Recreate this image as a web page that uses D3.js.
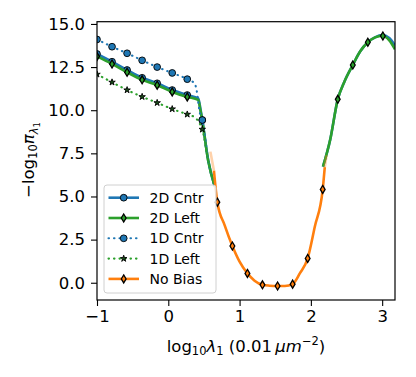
<!DOCTYPE html>
<html><head><meta charset="utf-8">
<script src="https://cdn.jsdelivr.net/npm/d3@7"></script>
<style>
html,body{margin:0;padding:0;background:#fff;}
text{font-family:"DejaVu Sans",sans-serif;}
</style></head>
<body>
<svg id="chart" width="416" height="377"></svg>
<script>
// ---------- data ----------
const xTicks = [-1, 0, 1, 2, 3];
const xTickLabels = ["\u22121", "0", "1", "2", "3"];
const yTicks = [0, 2.5, 5, 7.5, 10, 12.5, 15];
const yTickLabels = ["0.0", "2.5", "5.0", "7.5", "10.0", "12.5", "15.0"];
const legendLabels = ["2D Cntr", "2D Left", "1D Cntr", "1D Left", "No Bias"];

// 2D Cntr (solid blue)
const cntr2dX = [-1, -0.789, -0.578, -0.367, -0.156, 0.055, 0.266, 0.42, 0.45, 0.477, 0.56, 0.65];
const cntr2dY = [13.26, 12.81, 12.33, 11.88, 11.56, 11.17, 10.88, 10.69, 10.1, 9.43, 7.1, 5.6];
const cntr2dRightX = [2.17, 2.27, 2.377, 2.47, 2.588, 2.69, 2.799, 2.9, 3.0, 3.1, 3.18];
const cntr2dRightY = [6.73, 8.27, 10.63, 11.65, 12.62, 13.4, 13.94, 14.22, 14.35, 14.18, 13.75];
const cntr2dMarkX = [-1, -0.789, -0.578, -0.367, -0.156, 0.055, 0.266, 0.477];
const cntr2dMarkY = [13.26, 12.81, 12.33, 11.88, 11.56, 11.17, 10.88, 9.43];

// 2D Left (solid green)
const left2dX = [-1, -0.789, -0.578, -0.367, -0.156, 0.055, 0.266, 0.42, 0.45, 0.477, 0.56, 0.65];
const left2dY = [13.12, 12.68, 12.2, 11.76, 11.45, 11.06, 10.77, 10.6, 10.0, 9.38, 7.05, 5.6];
const left2dRightX = [2.17, 2.27, 2.377, 2.47, 2.588, 2.69, 2.799, 2.9, 3.0, 3.1, 3.18];
const left2dRightY = [6.73, 8.27, 10.63, 11.65, 12.62, 13.4, 13.94, 14.22, 14.32, 14.05, 13.53];
const left2dMarkX = [-1, -0.789, -0.578, -0.367, -0.156, 0.055, 0.266, 0.477, 2.377, 2.588, 2.799, 3.01];
const left2dMarkY = [13.12, 12.68, 12.2, 11.76, 11.45, 11.06, 10.77, 9.38, 10.63, 12.62, 13.94, 14.3];

// 1D Cntr (dotted blue)
const cntr1dX = [-1, -0.789, -0.578, -0.367, -0.156, 0.055, 0.266, 0.37, 0.40, 0.44, 0.477, 0.56, 0.65];
const cntr1dY = [14.1, 13.68, 13.3, 12.89, 12.5, 12.16, 11.8, 11.55, 11.1, 9.9, 9.43, 7.1, 5.6];
const cntr1dMarkX = [-1, -0.789, -0.578, -0.367, -0.156, 0.055, 0.266, 0.477];
const cntr1dMarkY = [14.1, 13.68, 13.3, 12.89, 12.5, 12.16, 11.8, 9.43];

// 1D Left (dotted green)
const left1dX = [-1, -0.789, -0.578, -0.367, -0.156, 0.055, 0.266, 0.37, 0.43, 0.477, 0.56, 0.65];
const left1dY = [12.08, 11.62, 11.17, 10.78, 10.43, 10.07, 9.76, 9.59, 9.3, 8.89, 7.1, 5.6];
const left1dMarkX = [-1, -0.789, -0.578, -0.367, -0.156, 0.055, 0.266, 0.477];
const left1dMarkY = [12.08, 11.62, 11.17, 10.78, 10.43, 10.07, 9.76, 8.89];

// No Bias (solid orange)
const noBiasX = [0.64, 0.688, 0.79, 0.899, 1.0, 1.11, 1.21, 1.321, 1.42, 1.533, 1.635, 1.744, 1.845, 1.955, 2.055, 2.166, 2.195];
const noBiasY = [6.5, 4.67, 3.34, 2.13, 1.22, 0.54, 0.12, -0.12, -0.17, -0.19, -0.19, -0.08, 0.54, 1.41, 3.25, 5.41, 6.7];
const noBiasFaintLeftX = [0.59, 0.64];
const noBiasFaintLeftY = [7.6, 6.5];
const noBiasFaintRightX = [2.195, 2.22];
const noBiasFaintRightY = [6.7, 7.4];
const noBiasMarkX = [0.688, 0.899, 1.11, 1.321, 1.533, 1.744, 1.955, 2.166];
const noBiasMarkY = [4.67, 2.13, 0.54, -0.12, -0.19, -0.08, 1.41, 5.41];

// ---------- drawing ----------
const BLUE = "#1f77b4", GREEN = "#2ca02c", ORANGE = "#ff7f0e";
const svg = d3.select("#chart");
const L = 97, R = 395, T = 21.7, B = 300;
const x = d3.scaleLinear().domain([-1, 3.18]).range([L, R]);
const y = d3.scaleLinear().domain([-1.0, 15.13]).range([B, T]);

svg.append("defs").append("clipPath").attr("id", "clip")
  .append("rect").attr("x", L).attr("y", T).attr("width", R - L).attr("height", B - T);

const plot = svg.append("g").attr("clip-path", "url(#clip)");
const zip = (xs, ys) => xs.map((v, i) => [v, ys[i]]);
const line = d3.line().x(d => x(d[0])).y(d => y(d[1])).curve(d3.curveMonotoneX);

const diamond = "M0,-4L2.4,0L0,4L-2.4,0Z";
const circle = d3.symbol().type(d3.symbolCircle).size(36)();
const star = d3.symbol().type(d3.symbolStar).size(13)();

function drawLine(g, xs, ys, color, dashed, opacity) {
  g.append("path").datum(zip(xs, ys)).attr("d", line)
    .attr("fill", "none").attr("stroke", color)
    .attr("stroke-width", dashed ? 2.1 : 2.6)
    .attr("stroke-opacity", opacity == null ? 1 : opacity)
    .attr("stroke-linecap", dashed ? "round" : "butt")
    .attr("stroke-linejoin", "round")
    .attr("stroke-dasharray", dashed ? "0.5,5" : null);
}
function drawMarks(g, xs, ys, path, fill, sw) {
  g.selectAll(null).data(zip(xs, ys)).enter().append("path")
    .attr("d", path).attr("transform", d => `translate(${x(d[0])},${y(d[1])})`)
    .attr("fill", fill).attr("stroke", "#000").attr("stroke-width", sw || 1.1);
}

// 2D Cntr
drawLine(plot, cntr2dX, cntr2dY, BLUE, false);
drawLine(plot, cntr2dRightX, cntr2dRightY, BLUE, false);
drawMarks(plot, cntr2dMarkX, cntr2dMarkY, circle, BLUE, 0.9);
// 2D Left
drawLine(plot, left2dX, left2dY, GREEN, false);
drawLine(plot, left2dRightX, left2dRightY, GREEN, false);
drawMarks(plot, left2dMarkX, left2dMarkY, diamond, GREEN, 1.3);
// 1D Cntr
drawLine(plot, cntr1dX, cntr1dY, BLUE, true);
drawMarks(plot, cntr1dMarkX, cntr1dMarkY, circle, BLUE, 0.9);
// 1D Left
drawLine(plot, left1dX, left1dY, GREEN, true);
drawMarks(plot, left1dMarkX, left1dMarkY, star, "#1a4d1a", 0.9);
// No Bias
drawLine(plot, noBiasFaintLeftX, noBiasFaintLeftY, ORANGE, false, 0.35);
drawLine(plot, noBiasFaintRightX, noBiasFaintRightY, ORANGE, false, 0.35);
drawLine(plot, noBiasX, noBiasY, ORANGE, false);
drawMarks(plot, noBiasMarkX, noBiasMarkY, diamond, ORANGE, 1.3);

// axes
const xAxis = svg.append("g").attr("transform", `translate(0,${B})`)
  .call(d3.axisBottom(x).tickValues(xTicks).tickFormat((d, i) => xTickLabels[i]).tickSize(6).tickPadding(4));
const yAxis = svg.append("g").attr("transform", `translate(${L},0)`)
  .call(d3.axisLeft(y).tickValues(yTicks).tickFormat((d, i) => yTickLabels[i]).tickSize(6).tickPadding(6));
[xAxis, yAxis].forEach(a => {
  a.select(".domain").remove();
  a.selectAll("line").attr("stroke", "#000").attr("stroke-width", 1.1);
  a.selectAll("text").attr("font-size", 16.5).attr("fill", "#000").attr("font-family", "DejaVu Sans");
});
svg.append("rect").attr("x", L).attr("y", T).attr("width", R - L).attr("height", B - T)
  .attr("fill", "none").attr("stroke", "#000").attr("stroke-width", 1.2);

// x label
const xl = svg.append("text").attr("x", 246).attr("y", 352).attr("text-anchor", "middle")
  .attr("font-size", 16.5).attr("fill", "#000");
xl.append("tspan").text("log");
xl.append("tspan").attr("font-size", 11.5).attr("dy", 3).text("10");
xl.append("tspan").attr("dy", -3).attr("font-style", "italic").text("\u03bb");
xl.append("tspan").attr("font-size", 11.5).attr("dy", 3).text("1");
xl.append("tspan").attr("dy", -3).text(" (0.01\u2009");
xl.append("tspan").attr("font-style", "italic").text("\u03bcm");
xl.append("tspan").attr("font-size", 11.5).attr("dy", -7).text("\u22122");
xl.append("tspan").attr("dy", 7).text(")");

// y label
const yl = svg.append("text").attr("transform", "translate(34,160) rotate(-90)")
  .attr("text-anchor", "middle").attr("font-size", 16.5).attr("fill", "#000");
yl.append("tspan").text("\u2212log");
yl.append("tspan").attr("font-size", 11.5).attr("dy", 3).text("10");
yl.append("tspan").attr("dy", -3).attr("font-style", "italic").text("\u03c0");
yl.append("tspan").attr("font-size", 11.5).attr("dy", 3.5).attr("font-style", "italic").text("\u03bb");
yl.append("tspan").attr("font-size", 8.5).attr("dy", 2).text("1");

// legend
const lg = svg.append("g");
lg.append("rect").attr("x", 104).attr("y", 185).attr("width", 112).attr("height", 108)
  .attr("rx", 3).attr("fill", "#fff").attr("fill-opacity", 0.8)
  .attr("stroke", "#d0d0d0").attr("stroke-width", 1);
const legendStyles = [
  {c: BLUE, dashed: false, m: circle, f: BLUE, sw: 0.9},
  {c: GREEN, dashed: false, m: diamond, f: GREEN, sw: 1.3},
  {c: BLUE, dashed: true, m: circle, f: BLUE, sw: 0.9},
  {c: GREEN, dashed: true, m: star, f: "#1a4d1a", sw: 0.9},
  {c: ORANGE, dashed: false, m: diamond, f: ORANGE, sw: 1.3}
];
legendLabels.forEach((lab, i) => {
  const cy = 197.7 + i * 20.3;
  const s = legendStyles[i];
  lg.append("line").attr("x1", 108.5).attr("x2", 139).attr("y1", cy).attr("y2", cy)
    .attr("stroke", s.c).attr("stroke-width", s.dashed ? 2.1 : 2.6)
    .attr("stroke-linecap", s.dashed ? "round" : "butt")
    .attr("stroke-dasharray", s.dashed ? "0.5,5" : null);
  lg.append("path").attr("d", s.m).attr("transform", `translate(123.7,${cy})`)
    .attr("fill", s.f).attr("stroke", "#000").attr("stroke-width", s.sw);
  lg.append("text").attr("x", 149.5).attr("y", cy + 5).attr("font-size", 14).attr("fill", "#000").text(lab);
});
</script>
</body></html>
